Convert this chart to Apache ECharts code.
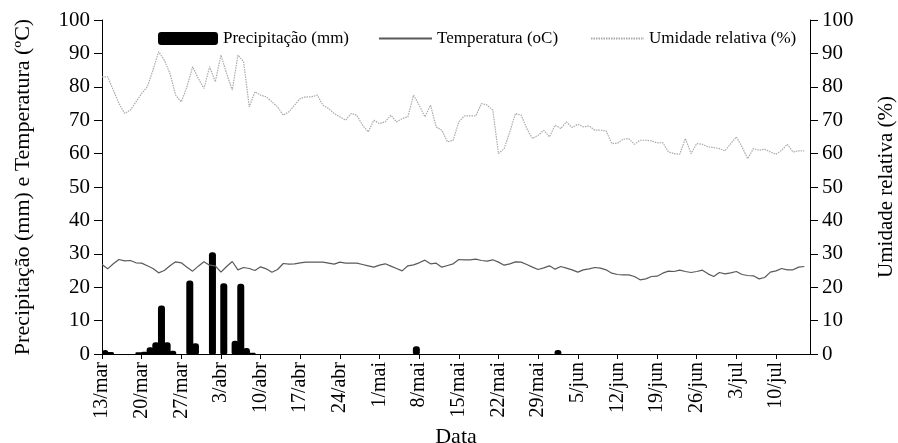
<!DOCTYPE html>
<html>
<head>
<meta charset="utf-8">
<script src="https://cdn.jsdelivr.net/npm/echarts@6/dist/echarts.min.js"></script>
<style>
html,body{margin:0;padding:0;background:#fff;}
#c{width:898px;height:443px;}
</style>
</head>
<body>
<div id="c"></div>
<script>
// ---- data ----
const monthNames = ['jan','fev','mar','abr','mai','jun','jul','ago','set','out','nov','dez'];
const startYear = 2013, startMonth = 2, startDay = 13; // 13/mar
const nDays = 126; // 13/mar .. 16/jul (axis extent)

// Precipitação (mm) per day, from 13/mar
const precipitacao = [
 1.2,0.6,0,0,0,0,0.5,0.7,2,3.5, 14.5,3.5,1,0,0,22,3.2,0,0,30.5,
 0,21.2,0,4,21,1.8,0.4,0,0,0, 0,0,0,0,0,0,0,0,0,0,
 0,0,0,0,0,0,0,0,0,0, 0,0,0,0,0,2.3,0,0,0,0,
 0,0,0,0,0,0,0,0,0,0, 0,0,0,0,0,0,0,0,0,0,
 1.2,0,0,0,0,0,0,0,0,0, 0,0,0,0,0,0,0,0,0,0,
 0,0,0,0,0,0,0,0,0,0, 0,0,0,0,0,0,0,0,0,0,
 0,0,0,0,0
];

// Temperatura (oC)
const temperatura = [
 26.8,25.5,27,28.3,27.9,28,27.3,27.2,26.4,25.6,
 24.3,25,26.4,27.6,27.3,26,24.8,26.3,27.6,26.6,
 26.4,24.5,26.2,27.7,25.2,25.9,25.6,25,26.1,25.5,
 24.5,25.3,27.1,26.9,27,27.3,27.5,27.5,27.5,27.5,
 27.2,26.9,27.5,27.2,27.2,27.2,26.8,26.4,26,26.6,
 27,26.3,25.6,24.9,26.4,26.7,27.3,28.1,27,27.2,
 26,26.5,27,28.3,28.2,28.2,28.4,28,27.8,28.2,
 27.5,26.6,27,27.6,27.5,26.8,26,25.3,25.8,26.4,
 25.4,26.2,25.7,25.2,24.5,25.2,25.5,25.9,25.7,25.2,
 24.2,23.8,23.7,23.7,23.2,22.2,22.5,23.2,23.3,24.2,
 24.8,24.7,25.1,24.7,24.4,24.7,25.1,24,23.2,24.4,
 24,24.3,24.7,23.8,23.5,23.4,22.5,22.9,24.5,24.9,
 25.6,25.2,25.2,26,26.2
];

// Umidade relativa (%)
const umidade = [
 83,83,79,75,72,73,75.5,78,80,85,
 90.5,88,84,77.5,75.5,80,86,82.5,79.5,86,
 81.5,89.5,84,79,89.5,87.5,74,78.5,77.5,77,
 75.5,74,71.5,72.5,74.5,76.5,77,77,77.5,74.5,
 73.5,72,71,70,72,71.5,68.5,66.5,70,69,
 69.5,71.5,69.5,70.5,71,77.5,74.5,71,74.5,68,
 67,63.5,64,69.5,71.3,71.3,71.3,75,74.5,73,
 60,61.5,66.5,72,71.5,67.5,64.5,65.5,67,65,
 68.5,67.5,69.5,67.8,68.8,68,68.3,67,67,66.8,
 63,63.1,64.3,64.5,62.8,64,64,63.8,63.2,63.3,
 60.5,60,59.8,64.5,60,63,62.8,62,61.8,61.5,
 60.8,63,65,62,58.5,61.5,61,61.3,60.5,59.8,
 61,62.8,60.5,60.8,60.8
];

const yTicks = [0,10,20,30,40,50,60,70,80,90,100];

// date labels d/mmm
const datas = [];
for (let i = 0; i < nDays; i++) {
  const d = new Date(Date.UTC(startYear, startMonth, startDay + i));
  datas.push(d.getUTCDate() + '/' + monthNames[d.getUTCMonth()]);
}
const datasBar = datas.slice(0, precipitacao.length);

// ---- chart ----
const FONT = '"Liberation Serif","Times New Roman",serif';
const chart = echarts.init(document.getElementById('c'), null, {renderer:'canvas'});
const legendText = {fontFamily: FONT, fontSize: 17, color: '#000'};
chart.setOption({
  animation: false,
  backgroundColor: '#fff',
  textStyle: {fontFamily: FONT},
  grid: {left: 102, right: 88, top: 20, bottom: 89, containLabel: false, outerBoundsMode: 'none'},
  legend: [
    {data: [{name: 'Precipitação (mm)', icon: 'roundRect'}], left: 158, top: 30, itemWidth: 60, itemHeight: 13, itemGap: 0, textStyle: legendText, padding: 0},
    {data: [{name: 'Temperatura (oC)', itemStyle: {opacity: 0}}], left: 378, top: 30, itemWidth: 53, itemHeight: 13, textStyle: legendText, padding: 0},
    {data: [{name: 'Umidade relativa (%)', itemStyle: {opacity: 0}}], left: 590, top: 30, itemWidth: 53, itemHeight: 13, textStyle: legendText, padding: 0}
  ],
  xAxis: [
    {
      type: 'category', data: datas, boundaryGap: false,
      name: 'Data', nameLocation: 'middle', nameGap: 70,
      nameTextStyle: {fontFamily: FONT, fontSize: 22, color: '#000'},
      axisLine: {lineStyle: {color: '#000', width: 1}},
      axisTick: {show: true, interval: 6, length: 5, inside: false, lineStyle: {color: '#000'}},
      axisLabel: {interval: 6, rotate: 90, fontFamily: FONT, fontSize: 20, color: '#000', margin: 8},
      splitLine: {show: false}
    },
    {
      type: 'category', data: datasBar, boundaryGap: true, show: false,
      axisLine: {show: false}, axisTick: {show: false}, axisLabel: {show: false}
    }
  ],
  yAxis: [
    {
      type: 'value', min: yTicks[0], max: yTicks[yTicks.length-1], interval: 10,
      name: 'Precipitação (mm) e Temperatura (ºC)', nameLocation: 'middle', nameGap: 68,
      nameTextStyle: {fontFamily: FONT, fontSize: 22, color: '#000'},
      axisLine: {show: true, lineStyle: {color: '#000', width: 1}},
      axisTick: {show: true, length: 8, inside: false, lineStyle: {color: '#000'}},
      axisLabel: {fontFamily: FONT, fontSize: 21, color: '#000', margin: 12},
      splitLine: {show: false}
    },
    {
      type: 'value', min: yTicks[0], max: yTicks[yTicks.length-1], interval: 10, position: 'right',
      name: 'Umidade relativa (%)', nameLocation: 'middle', nameGap: 66,
      nameTextStyle: {fontFamily: FONT, fontSize: 21, color: '#000'},
      axisLine: {show: true, lineStyle: {color: '#000', width: 1}},
      axisTick: {show: true, length: 8, inside: false, lineStyle: {color: '#000'}},
      axisLabel: {fontFamily: FONT, fontSize: 21, color: '#000', margin: 12},
      splitLine: {show: false}
    }
  ],
  series: [
    {
      name: 'Precipitação (mm)', type: 'bar', xAxisIndex: 1, yAxisIndex: 0,
      data: precipitacao, barWidth: 7,
      itemStyle: {color: '#000', borderRadius: [3,3,1,1]}
    },
    {
      name: 'Temperatura (oC)', type: 'line', xAxisIndex: 0, yAxisIndex: 0,
      data: temperatura, symbol: 'none', smooth: false,
      lineStyle: {color: '#5a5a5a', width: 1.2, type: 'solid'},
      itemStyle: {color: '#5a5a5a'}
    },
    {
      name: 'Umidade relativa (%)', type: 'line', xAxisIndex: 0, yAxisIndex: 1,
      data: umidade, symbol: 'none', smooth: false,
      lineStyle: {color: '#aaa', width: 1.2, type: [1.5, 1]},
      itemStyle: {color: '#aaa'}
    }
  ]
});
</script>
</body>
</html>
